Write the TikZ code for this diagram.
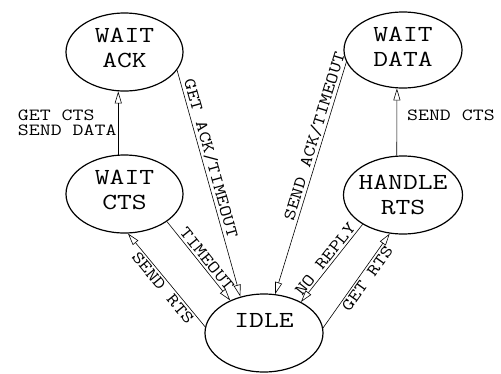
\documentclass[tikz,border=0pt]{standalone}
\usepackage{graphicx}
\usetikzlibrary{shapes.geometric,arrows.meta}
\newcommand\hs[1]{\scalebox{1.25}[1]{#1}}
\begin{document}
\begin{tikzpicture}[x=1pt,y=-1pt,
  state/.style={ellipse, draw, line width=1.2pt, inner sep=0pt},
  stext/.style={font=\ttfamily\fontsize{23}{25}\selectfont, align=center, inner sep=0pt},
  lab/.style={font=\ttfamily\fontsize{17}{15}\selectfont, inner sep=2pt},
  conn/.style={line width=0.6pt, -{Triangle[open, length=12pt, width=7pt]}}]
\useasboundingbox (0,0) rectangle (501,373);
% states
\node[state, minimum width=117pt, minimum height=78pt] (ack) at (124.5,52) {};
\node[stext] (ackt) at ([yshift=4pt]ack.center) {\hs{WAIT}\\\hs{ACK}};
\node[state, minimum width=118pt, minimum height=76pt] (data) at (403,50) {};
\node[stext] (datat) at ([yshift=3pt]data.center) {\hs{WAIT}\\\hs{DATA}};
\node[state, minimum width=117pt, minimum height=78pt] (cts) at (124.5,194) {};
\node[stext] (ctst) at ([yshift=4pt]cts.center) {\hs{WAIT}\\\hs{CTS}};
\node[state, minimum width=119pt, minimum height=78pt] (rts) at (403,195) {};
\node[stext] (rtst) at ([yshift=0pt]rts.center) {\hs{HANDLE}\\\hs{RTS}};
\node[state, minimum width=118pt, minimum height=78pt] (idle) at (264,333) {};
\node[stext] (idlet) at ([yshift=12.5pt]idle.center) {\hs{IDLE}};
% transitions
\draw[conn] (cts.99.5) -- node[lab, left, align=left, pos=0.5, inner sep=1.5pt]{\hs{GET CTS}\\\hs{SEND DATA}} (ack.-99.5);
\draw[conn] (rts.99.5) -- node[lab, anchor=west, pos=0.6, xshift=8pt]{\hs{SEND CTS}} (data.-99.7);
\draw[conn] (ack.-19.6) -- node[lab, sloped, above, pos=0.4]{\hs{GET ACK/TIMEOUT}} (idle.123.1);
\draw[conn] (data.-168.1) -- node[lab, sloped, above, pos=0.33]{\hs{SEND ACK/TIMEOUT}} (idle.74.7);
\draw[conn] (cts.-33.7) -- node[lab, sloped, above, pos=0.54]{\hs{TIMEOUT}} (idle.136.3);
\draw[conn] (idle.174.3) -- node[lab, sloped, below, pos=0.47]{\hs{SEND RTS}} (cts.-85.1);
\draw[conn] (rts.-144.7) -- node[lab, sloped, above, pos=0.51]{\hs{NO REPLY}} (idle.40.9);
\draw[conn] (idle.5.8) -- node[lab, sloped, below, pos=0.57]{\hs{GET RTS}} (rts.-109.1);
\end{tikzpicture}
\end{document}
